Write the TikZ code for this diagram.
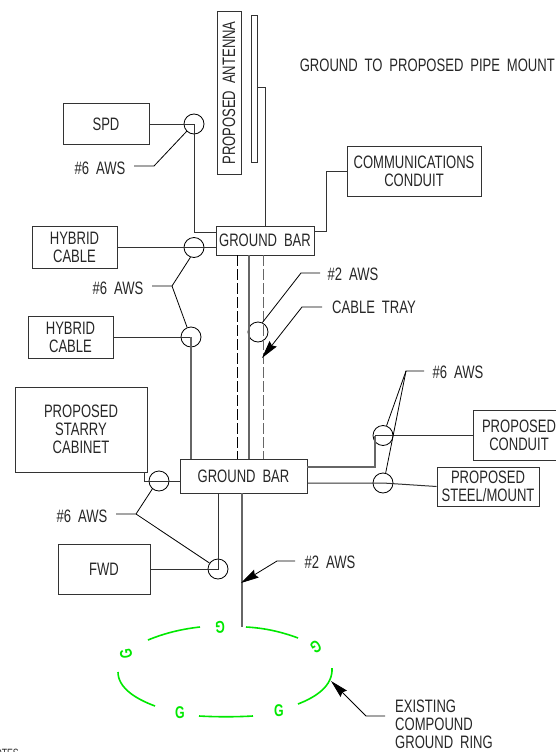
\documentclass[tikz,border=0pt]{standalone}
\usepackage{fontspec}
\setmainfont[FakeStretch=0.725,WordSpace=1.9]{Liberation Sans}
\usetikzlibrary{arrows.meta}
\definecolor{ringgreen}{HTML}{00E800}
\definecolor{wirecolor}{HTML}{333333}
\tikzset{
  devbox/.style={draw=wirecolor, line width=1pt, inner sep=0pt, align=center, font=\fontsize{18}{18}\selectfont, text=black!85},
  label/.style={inner sep=0pt, align=center, font=\fontsize{18}{18}\selectfont, text=black!85},
  ringmark/.style={circle, draw=black, line width=0.8pt, minimum size=20pt, inner sep=0pt},
  wire/.style={draw=wirecolor, line width=1pt},
  trunk/.style={draw=black!60, line width=1.5pt},
  tray/.style={line width=1pt, dash pattern=on 11pt off 3pt},
  leader/.style={draw=black, line width=0.8pt},
  tipleader/.style={leader, -{Stealth[length=18pt,width=9pt,inset=2pt]}},
  ringarc/.style={draw=ringgreen, line width=1.6pt},
  rodmark/.style={inner sep=0pt, text=ringgreen, font=\fontsize{17}{17}\selectfont\bfseries}
}
\begin{document}
\begin{tikzpicture}[x=1pt,y=-1pt]
    \useasboundingbox (0,0) rectangle (556,752);

    % antenna and pipe
    \node[devbox, rotate=90, minimum width=162pt, minimum height=24pt] (antenna) at (229,93) {PROPOSED ANTENNA};
    \node[devbox, minimum width=6pt, minimum height=146pt] (pipe) at (254,89) {};
    \node[label, anchor=east] (pipetext) at (555,65) {GROUND TO PROPOSED PIPE MOUNT};

    % boxes
    \node[devbox, minimum width=86pt, minimum height=41pt] (spd) at (106,124) {SPD};
    \node[devbox, minimum width=134pt, minimum height=50pt] (comms) at (414,171) {COMMUNICATIONS\\CONDUIT};
    \node[devbox, minimum width=85pt, minimum height=42pt] (hybridone) at (74.5,247.5) {HYBRID\\CABLE};
    \node[devbox, minimum width=85pt, minimum height=42pt] (hybridtwo) at (70.5,337) {HYBRID\\CABLE};
    \node[devbox, minimum width=132pt, minimum height=85pt] (cabinet) at (81,429.5) {PROPOSED\\STARRY\\CABINET};
    \node[devbox, minimum width=92pt, minimum height=50pt] (fwd) at (104,569) {FWD};
    \node[devbox, minimum width=102pt, minimum height=39pt] (steel) at (488,486.5) {PROPOSED\\STEEL/MOUNT};

    % conduit box runs off the page
    \draw[wire] (560,410) -- (473,410) -- (473,460) -- (560,460);
    \coordinate (conduitwest) at (473,435.5);
    \node[label] (conduit) at (519,435.5) {PROPOSED\\CONDUIT};

    % ground bars
    \node[devbox, minimum width=98pt, minimum height=29pt] (upperbar) at (265,240.5) {GROUND BAR};
    \node[devbox, minimum width=127pt, minimum height=34pt] (lowerbar) at (243.5,476) {GROUND BAR};

    % rings
    \node[ringmark] (spdring) at (194,124) {};
    \node[ringmark] (hybridonering) at (194,247.5) {};
    \node[ringmark] (hybridtworing) at (191,337) {};
    \node[ringmark] (trayring) at (258,332) {};
    \node[ringmark] (cabinetring) at (159,481) {};
    \node[ringmark] (fwdring) at (218,569) {};
    \node[ringmark] (conduitring) at (383,435.5) {};
    \node[ringmark] (steelring) at (383,483) {};

    % wires
    \coordinate (upperwest) at (216,232);
    \coordinate (uppereast) at (314,231);
    \coordinate (commswest) at (347,171);
    \coordinate (cornercomms) at (326,171);
    \coordinate (pipeeast) at (257,87);
    \coordinate (uppertop) at (265,226);
    \draw[wire] (spd.east) -- (spdring.center) |- (upperwest);
    \draw[wire] (pipeeast) -| (uppertop);
    \draw[wire] (uppereast) -| (cornercomms) -- (commswest);
    \draw[wire] (hybridone.east) -- (hybridonering.center) -- (216,247.5);
    \coordinate (hybridtwobar) at (191,459);
    \draw[wire] (hybridtwo.east) -- (hybridtworing.center);
    \draw[trunk] (hybridtworing.center) -- (hybridtwobar);
    \coordinate (cabinetdrop) at (144,472);
    \coordinate (lowerwest) at (180,481);
    \draw[wire] (cabinetdrop) |- (lowerwest);
    \coordinate (fwdbar) at (218,493);
    \draw[wire] (fwd.east) -- (fwdring.center) -- (fwdbar);
    \coordinate (lowereast) at (307,467);
    \coordinate (bendconduit) at (375,467);
    \coordinate (bendtop) at (375,435.5);
    \draw[trunk] (lowereast) -- (bendconduit) -- (bendtop);
    \draw[wire] (bendtop) -- (conduitring.center) -- (conduitwest);
    \draw[wire] (307,483) -- (steelring.center) -- (steel.west);

    % tray between the bars
    \coordinate (traylefttop) at (237,255);
    \coordinate (trayleftbot) at (237,459);
    \coordinate (traymidtop) at (249,255);
    \coordinate (traymidbot) at (249,459);
    \coordinate (trayrighttop) at (263,255);
    \coordinate (trayrightbot) at (263,459);
    \draw[tray] (traylefttop) -- (trayleftbot);
    \draw[trunk] (traymidtop) -- (traymidbot);
    \draw[tray, draw=black!60] (trayrighttop) -- (trayrightbot);

    % down to the ring
    \coordinate (lowerbot) at (242,493);
    \coordinate (ringtop) at (242,627);
    \draw[trunk] (lowerbot) -- (ringtop);

    % leaders
    \node[label] (awsspd) at (100,168) {\#6 AWS};
    \coordinate (kinkspd) at (154,166);
    \draw[leader] (134,166) -- (kinkspd) -- (spdring.225);

    \node[label] (awshybrid) at (118,288) {\#6 AWS};
    \coordinate (kinkhybrid) at (172,286);
    \draw[leader] (152,286) -- (kinkhybrid) -- (hybridonering.250);
    \draw[leader] (kinkhybrid) -- (hybridtworing.112);

    \node[label] (awstray) at (353,274) {\#2 AWS};
    \coordinate (kinktray) at (301,273);
    \draw[leader] (320,273) -- (kinktray) -- (trayring.65);

    \node[label, anchor=west] (traytext) at (332,307) {CABLE TRAY};
    \coordinate (traytip) at (262,358);
    \draw[tipleader] (322,307) -- (302,307) -- (traytip);

    \node[label] (awscabinet) at (82,516) {\#6 AWS};
    \coordinate (kinkcabinet) at (136,514);
    \draw[leader] (116,514) -- (kinkcabinet) -- (cabinetring.230);
    \draw[leader] (kinkcabinet) -- (fwdring.145);

    \node[label] (awsright) at (458,372) {\#6 AWS};
    \coordinate (kinkright) at (406,371);
    \draw[leader] (424,371) -- (kinkright) -- (conduitring.70);
    \draw[leader] (kinkright) -- (steelring.75);

    \node[label] (awsring) at (330,562) {\#2 AWS};
    \coordinate (ringtip) at (241,583);
    \draw[tipleader] (295,561) -- (277,561) -- (ringtip);

    \node[label, anchor=north west, align=left] (ringtext) at (395,699.5) {EXISTING\\COMPOUND\\GROUND RING};
    \coordinate (arctip) at (331,681);
    \draw[tipleader] (385,716) -- (366,716) -- (arctip);

    % ground ring
    \draw[ringarc] (148,640) .. controls (165,633) and (182,629) .. (200,627);
    \draw[ringarc] (246,627) .. controls (265,628) and (282,632) .. (298,638);
    \draw[ringarc] (118,672) .. controls (118,688) and (136,699) .. (155,706);
    \draw[ringarc] (199,716) .. controls (217,717) and (235,717) .. (253,716);
    \draw[ringarc] (298,704) .. controls (316,697) and (333,686) .. (332,668);

    \node[rodmark, rotate=180] (rodtop) at (220,627) {G};
    \node[rodmark, rotate=100] (rodleft) at (126,654) {G};
    \node[rodmark] (rodlow) at (180,713) {G};
    \node[rodmark] (rodlowright) at (279,711) {G};
    \node[rodmark, rotate=-150] (rodright) at (316,647) {G};

    % cut off by the page
    \node[label, anchor=east, font=\fontsize{12}{12}\selectfont] (notes) at (19,753) {NOTES};
\end{tikzpicture}
\end{document}
